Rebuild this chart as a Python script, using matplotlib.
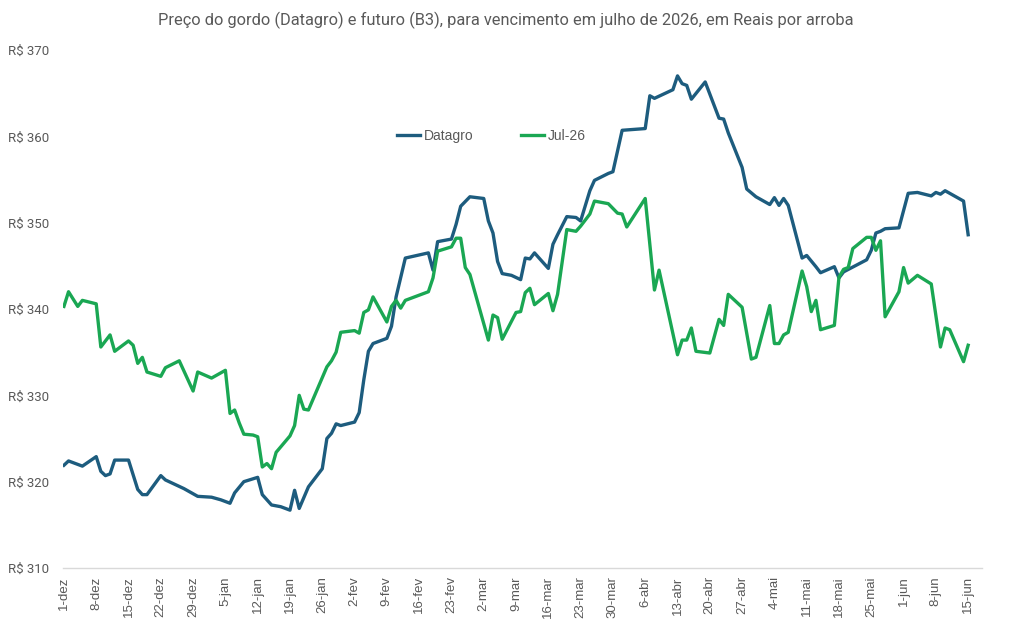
import matplotlib
matplotlib.use("Agg")
import matplotlib.pyplot as plt
from matplotlib import font_manager
import pandas as pd

# ---- data ----
inicio = "2025-12-01"
dias_datagro = [0,1,2,4,7,8,9,10,11,14,16,17,18,21,22,26,29,32,34,36,
                37,39,42,43,45,47,49,50,51,53,56,57,58,59,60,63,64,65,66,67,
                70,71,72,74,79,80,81,84,85,86,88,91,92,93,94,95,97,99,100,101,
                102,105,106,107,109,111,112,114,115,118,119,121,126,127,128,132,133,134,135,136,
                139,142,143,144,147,148,150,153,154,155,156,157,160,161,163,164,167,168,169,174,
                175,176,177,178,181,183,185,188,189,190,191,195,196]
datagro = [321.9,322.4,322.2,321.8,322.9,321.2,320.7,320.9,322.5,322.5,
           319.1,318.5,318.5,320.7,320.2,319.2,318.3,318.2,317.9,317.5,
           318.7,320.0,320.5,318.5,317.3,317.1,316.7,319.0,316.9,319.4,
           321.5,325.0,325.6,326.7,326.5,326.9,328.0,331.8,335.1,336.0,
           336.6,338.0,341.4,345.9,346.5,344.5,347.8,348.1,349.8,351.9,
           353.0,352.8,350.2,348.8,345.5,344.1,343.9,343.4,345.9,345.8,
           346.5,344.7,347.5,348.6,350.7,350.6,350.2,353.7,354.9,355.7,
           355.9,360.7,360.9,364.7,364.4,365.4,367.0,366.1,365.9,364.3,
           366.3,362.1,362.0,360.4,356.4,353.9,353.0,352.1,352.9,352.0,
           352.8,352.0,345.9,346.2,344.9,344.2,344.9,343.6,344.3,345.7,
           346.8,348.8,349.0,349.3,349.4,353.4,353.5,353.1,353.5,353.3,
           353.7,352.5,348.6]

dias_jul26 = [0,1,3,4,7,8,10,11,14,15,16,17,18,21,22,25,28,29,32,35,
              36,37,38,39,41,42,43,44,45,46,49,50,51,52,53,57,58,59,60,63,
              64,65,66,67,70,71,72,73,74,79,80,81,84,85,86,87,88,92,93,94,
              95,98,99,100,101,102,105,106,107,109,111,112,114,115,118,120,121,122,126,128,
              129,133,134,135,136,137,140,142,143,144,147,149,150,153,154,155,156,157,160,161,
              162,163,164,167,168,169,170,171,174,175,176,177,178,181,182,183,185,188,190,191,
              192,195,196]
jul26 = [340.3,342.0,340.3,341.0,340.6,335.6,337.0,335.1,336.3,335.8,
         333.7,334.4,332.7,332.2,333.2,334.0,330.5,332.7,332.0,332.9,
         327.9,328.3,326.8,325.5,325.4,325.2,321.7,322.1,321.5,323.4,
         325.3,326.5,330.0,328.4,328.3,333.3,334.0,335.0,337.3,337.5,
         337.2,339.6,339.9,341.4,338.5,340.3,341.0,340.1,341.0,342.0,
         343.6,346.7,347.2,348.2,348.2,344.8,344.0,336.4,339.3,339.0,
         336.5,339.6,339.7,341.9,342.4,340.5,341.8,339.8,341.7,349.2,
         349.0,349.6,351.0,352.5,352.2,351.1,351.0,349.5,352.8,342.2,
         344.5,334.7,336.4,336.4,337.8,335.1,334.9,338.8,338.1,341.7,
         340.2,334.2,334.4,340.4,336.0,336.0,337.0,337.3,344.4,342.6,
         339.7,341.0,337.6,338.1,343.7,344.6,344.8,347.0,348.3,348.3,
         346.8,347.9,339.1,342.0,344.8,343.0,343.9,342.9,335.6,337.8,
         337.6,333.9,335.8]

tick_labels = ["1-dez","8-dez","15-dez","22-dez","29-dez","5-jan","12-jan","19-jan",
               "26-jan","2-fev","9-fev","16-fev","23-fev","2-mar","9-mar","16-mar",
               "23-mar","30-mar","6-abr","13-abr","20-abr","27-abr","4-mai","11-mai",
               "18-mai","25-mai","1-jun","8-jun","15-jun"]
y_ticks = [310, 320, 330, 340, 350, 360, 370]

titulo = "Preço do gordo (Datagro) e futuro (B3), para vencimento em julho de 2026, em Reais por arroba"

# ---- fonts ----
avail = {f.name for f in font_manager.fontManager.ttflist}
narrow = "Roboto" if "Roboto" in avail else "DejaVu Sans"
regular = "Liberation Sans"

# ---- figure ----
fig = plt.figure(figsize=(10.11, 6.29), dpi=100)
ax = fig.add_axes([63/1011, 1-568/629, (982-63)/1011, (568-50)/629])

t0 = pd.Timestamp(inicio)
x_d = t0 + pd.to_timedelta(dias_datagro, unit="D")
x_j = t0 + pd.to_timedelta(dias_jul26, unit="D")

ax.plot(x_d, datagro, color="#1D5C7E", lw=2.4, label="Datagro", solid_joinstyle="round")
ax.plot(x_j, jul26, color="#1AA753", lw=2.4, label="Jul-26", solid_joinstyle="round")

ticks = pd.date_range(t0, periods=len(tick_labels), freq="7D")
ax.set_xticks(ticks)
ax.set_xticklabels(tick_labels, rotation=90, fontsize=9.5, color="#595959", family=regular)
ax.set_xlim(t0 - pd.Timedelta(days=0.2), t0 + pd.Timedelta(days=199))

ax.set_ylim(310, 370)
ax.set_yticks(y_ticks)
ax.set_yticklabels([f"R$ {v}" for v in y_ticks], fontsize=9.5, color="#595959", family=narrow)

for s in ["top", "right", "left"]:
    ax.spines[s].set_visible(False)
ax.spines["bottom"].set_color("#D9D9D9")
ax.spines["bottom"].set_linewidth(1.0)
ax.tick_params(axis="both", length=0)
ax.tick_params(axis="y", pad=10)
ax.tick_params(axis="x", pad=6)

leg = ax.legend(loc="center", bbox_to_anchor=(0.466, 0.834), ncol=2, frameon=False,
                handlelength=1.7, handletextpad=0.25, columnspacing=3.4,
                prop={"family": regular, "size": 10})
for t in leg.get_texts():
    t.set_color("#595959")

fig.text(506/1011, 1-20/629, titulo, ha="center", va="center", fontsize=11.8,
         color="#595959", family=narrow)

fig.savefig("out.png", dpi=100)
